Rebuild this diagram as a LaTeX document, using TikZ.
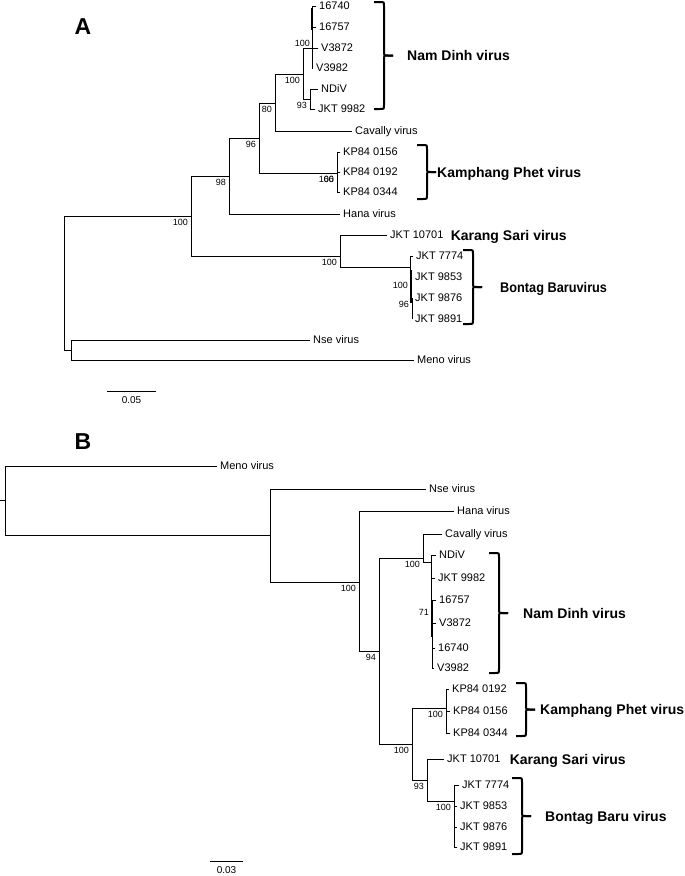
\documentclass[tikz,border=0pt]{standalone}
\usepackage{fontspec}
\setmainfont{Liberation Sans}
\usepackage{graphicx}
\usetikzlibrary{positioning}

\tikzset{
  branch/.style={line width=0.9pt, line cap=rect},
  zerobranch/.style={line width=1.8pt},
  leaf/.style={anchor=west, inner sep=3pt, font=\fontsize{11}{13}\selectfont,
    text height=7.9pt, text depth=0pt},
  boot/.style={inner sep=0pt, font=\fontsize{9}{10}\selectfont},
  cladelabel/.style={inner sep=0pt, font=\fontsize{14}{16}\selectfont\bfseries,
    text height=10pt, text depth=0pt},
  bracket/.style={line width=2pt},
  scalelbl/.style={inner sep=0pt, font=\fontsize{10}{12}\selectfont},
  panel/.style={inner sep=0pt, font=\fontsize{23}{26}\selectfont\bfseries},
}

% bootstrap value next to an inner node
\newcommand{\bootval}[3][below left=3pt and 3pt]{\node[boot, #1 of #2] (#2-bs) {#3};}
% curly bracket with clade name: name, x, top, bottom, gap, text
\newcommand{\virusbracket}[6]{%
  \pgfmathsetmacro{\bmid}{(#3+#4)/2}%
  \coordinate (#1) at (#2+19,\bmid);
  \draw[bracket] (#2,#3) -- (#2+6,#3) .. controls (#2+10,#3) .. (#2+10,#3+4)
    -- (#2+10,\bmid-4) .. controls (#2+10,\bmid) .. (#2+14,\bmid) -- (#1);
  \draw[bracket] (#2,#4) -- (#2+6,#4) .. controls (#2+10,#4) .. (#2+10,#4-4)
    -- (#2+10,\bmid+4) .. controls (#2+10,\bmid) .. (#2+14,\bmid) -- (#1);
  \node[cladelabel, right=#5pt of #1] (#1-lbl) {#6};
}

\begin{document}
\begin{tikzpicture}[x=1pt, y=-1pt]
  \useasboundingbox (0,0) rectangle (685,876);
  \fill[white] (0,0) rectangle (685,876);

  % ---------- panel A ----------
  \node[panel] (labA) at (83,27) {A};

  \coordinate (rA) at (64,216);
  \coordinate (aNM) at (71,350);
  \coordinate (a100) at (191,216);
  \coordinate (a98) at (229,176);
  \coordinate (a96) at (259,138);
  \coordinate (a80) at (275,103);
  \coordinate (aND) at (303,74);
  \coordinate (aND1) at (312,48);
  \coordinate (aND2) at (310,99);
  \coordinate (aKP) at (337,173);
  \coordinate (aKB) at (340,256);
  \coordinate (aBB) at (410,267);
  \coordinate (aBB1) at (411,279);
  \coordinate (aBB2) at (412,298);

  \foreach \p/\c in {rA/a100, rA/aNM, a100/a98, a100/aKB, a98/a96, a96/a80,
      a96/aKP, a80/aND, aND/aND1, aND/aND2, aKB/aBB, aBB/aBB1, aBB1/aBB2}
    \draw[branch] (\p) |- (\c);

  \foreach \p/\id/\x/\y/\txt in {
      aND1/a16740/316/6/16740,
      aND1/a16757/316/27/16757,
      aND1/aV3872/318/48/V3872,
      aND1/aV3982/313/68/V3982,
      aND2/aNDiV/318/89/NDiV,
      aND2/aJKT9982/315/109/JKT 9982,
      a80/aCav/352/131/Cavally virus,
      aKP/aKP0156/340/152/KP84 0156,
      aKP/aKP0192/340/172/KP84 0192,
      aKP/aKP0344/340/192/KP84 0344,
      a98/aHana/340/214/Hana virus,
      aKB/aJKT10701/387/235/JKT 10701,
      aBB/aJKT7774/413/256/JKT 7774,
      aBB1/aJKT9853/412/277/JKT 9853,
      aBB2/aJKT9876/412/298/JKT 9876,
      aBB2/aJKT9891/412/319/JKT 9891,
      aNM/aNse/310/340/Nse virus,
      aNM/aMeno/414/360/Meno virus} {
    \node[leaf] (\id) at (\x,\y) {\txt};
    \draw[branch] (\p) |- (\id.west);
  }

  % near-zero inner branches
  \coordinate (aNDz1) at (312,8);
  \coordinate (aNDz2) at (312,30);
  \draw[zerobranch] (aNDz1) -- (aNDz2);
  \coordinate (aBBz1) at (411,270);
  \coordinate (aBBz2) at (411,303);
  \draw[zerobranch] (aBBz1) -- (aBBz2);

  \bootval{a100}{100}
  \bootval{a98}{98}
  \bootval{a96}{96}
  \bootval{a80}{80}
  \bootval{aND}{100}
  \bootval[above left=1pt and 2pt]{aND1}{100}
  \bootval{aND2}{93}
  \bootval{aKP}{100}
  \node[boot, below left=3pt and 3pt of aKP] (aKP-bs2) {66};
  \bootval{aKB}{100}
  \bootval{aBB1}{100}
  \bootval{aBB2}{96}

  \virusbracket{ndA}{374}{2}{109}{14}{Nam Dinh virus}
  \virusbracket{kpA}{417}{145}{199}{1}{Kamphang Phet virus}
  \virusbracket{bbA}{463}{250}{324}{18}{\scalebox{0.91}[1]{Bontag Baruvirus}}
  \node[cladelabel, right=4pt of aJKT10701] (ksA) {Karang Sari virus};

  \coordinate (sbA1) at (107,391);
  \coordinate (sbA2) at (156,391);
  \draw[branch] (sbA1) -- node[scalelbl, below=5pt] (sbAlbl) {0.05} (sbA2);

  % ---------- panel B ----------
  \node[panel] (labB) at (83,442) {B};

  \coordinate (rB0) at (0,500);
  \coordinate (rB) at (5,500);
  \coordinate (b1) at (270,535);
  \coordinate (bH) at (359,582);
  \coordinate (b94) at (379,651);
  \coordinate (bC) at (423,558);
  \coordinate (bND) at (431,562);
  \coordinate (b71) at (432,606);
  \coordinate (b100) at (412,744);
  \coordinate (bKP) at (446,708);
  \coordinate (b93) at (427,780);
  \coordinate (bBB) at (454,801);

  \draw[branch] (rB0) -- (rB);
  \foreach \p/\c in {rB/b1, b1/bH, bH/b94, b94/bC, b94/b100, bC/bND,
      bND/b71, b100/bKP, b100/b93, b93/bBB}
    \draw[branch] (\p) |- (\c);

  \foreach \p/\id/\x/\y/\txt in {
      rB/bMeno/217/466/Meno virus,
      b1/bNse/426/489/Nse virus,
      bH/bHana/454/511/Hana virus,
      bC/bCav/442/534/Cavally virus,
      bND/bNDiV/436/555/NDiV,
      bND/bJKT9982/435/578/JKT 9982,
      b71/b16757/436/600/16757,
      b71/bV3872/436/623/V3872,
      b71/b16740/435/648/16740,
      b71/bV3982/434/668/V3982,
      bKP/bKP0192/449/689/KP84 0192,
      bKP/bKP0156/450/711/KP84 0156,
      bKP/bKP0344/450/733/KP84 0344,
      b93/bJKT10701/444/759/JKT 10701,
      bBB/bJKT7774/459/785/JKT 7774,
      bBB/bJKT9853/457/806/JKT 9853,
      bBB/bJKT9876/457/827/JKT 9876,
      bBB/bJKT9891/457/847/JKT 9891} {
    \node[leaf] (\id) at (\x,\y) {\txt};
    \draw[branch] (\p) |- (\id.west);
  }

  \coordinate (b71z1) at (432,603);
  \coordinate (b71z2) at (432,637);
  \draw[zerobranch] (b71z1) -- (b71z2);

  \bootval{bH}{100}
  \bootval{b94}{94}
  \bootval{bC}{100}
  \bootval{b71}{71}
  \bootval{b100}{100}
  \bootval{bKP}{100}
  \bootval{b93}{93}
  \bootval{bBB}{100}

  \virusbracket{ndB}{489}{553}{673}{15}{Nam Dinh virus}
  \virusbracket{kpB}{516}{683}{736}{5}{Kamphang Phet virus}
  \virusbracket{bbB}{512}{778}{854}{14}{Bontag Baru virus}
  \node[cladelabel, right=6pt of bJKT10701] (ksB) {Karang Sari virus};

  \coordinate (sbB1) at (210,861);
  \coordinate (sbB2) at (243,861);
  \draw[branch] (sbB1) -- node[scalelbl, below=5pt] (sbBlbl) {0.03} (sbB2);
\end{tikzpicture}
\end{document}
